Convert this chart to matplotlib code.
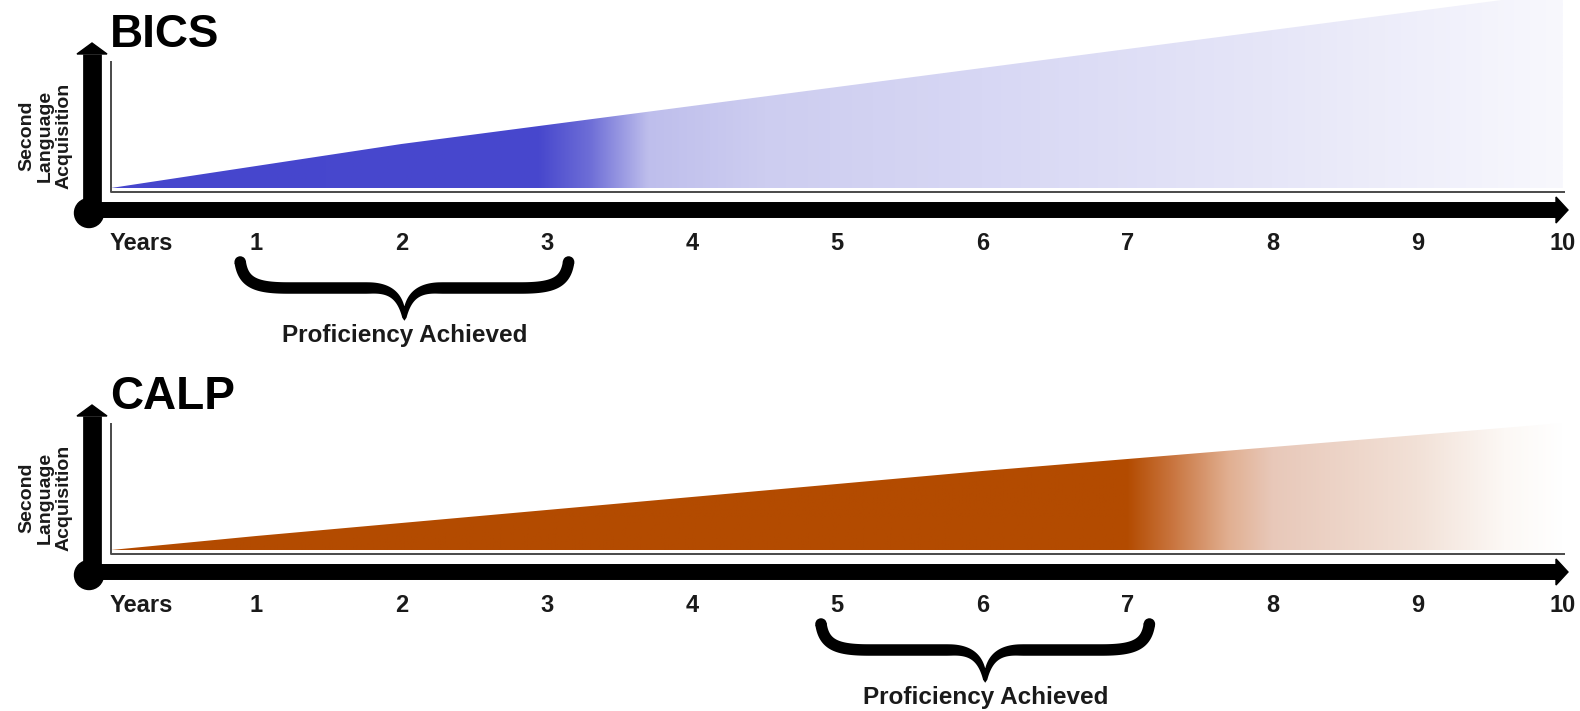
import numpy as np
import matplotlib
matplotlib.use("Agg")
import matplotlib.pyplot as plt
from matplotlib.patches import Polygon, Ellipse
from matplotlib.colors import to_rgb

# ---------------- data ----------------
years = list(range(0, 11))
tick_labels = ["Years"] + [str(i) for i in range(1, 11)]

bics_height = [0, 22, 44, 63, 82, 101, 120, 139, 158, 177, 196]
calp_height = [0, 14, 27, 40, 53, 66, 79, 91, 103, 115, 127]

bics_proficiency = (1, 3)
calp_proficiency = (5, 7)

bics_stop_years = [0, 2.95, 3.3, 3.7, 4.5, 6, 8, 10]
bics_stop_colors = ["#4646cd", "#4848cd", "#6e6ed7", "#bebeec",
                    "#cdcdf0", "#d7d7f4", "#e6e6f8", "#f8f8fd"]
calp_stop_years = [0, 7.0, 7.3, 7.7, 8.0, 9.0, 9.6, 10]
calp_stop_colors = ["#b34b00", "#b34b00", "#c8733c", "#e1af91",
                    "#e8c8b9", "#f2e1d7", "#fcf8f5", "#ffffff"]

titles = ["BICS", "CALP"]
ylabel = "Second\nLanguage\nAcquisition"
brace_label = "Proficiency Achieved"

# ---------------- layout ----------------
W, H, DPI = 1580, 711, 100
PX = 145.2        # pixels per year
X0 = 111          # pixel of year 0
FONT = "Liberation Sans"


def px2yr(p):
    return (p - X0) / PX


def dx(p):
    return p / PX


fig = plt.figure(figsize=(W / DPI, H / DPI), dpi=DPI, facecolor="white")


def bez(p0, p1, p2, p3, n=40):
    t = np.linspace(0, 1, n)[:, None]
    p0, p1, p2, p3 = map(np.asarray, (p0, p1, p2, p3))
    return ((1 - t) ** 3) * p0 + 3 * ((1 - t) ** 2) * t * p1 + 3 * (1 - t) * t ** 2 * p2 + t ** 3 * p3


def brace(ax, a, b, top, mid, tip, lpad, rpad):
    # everything here in pixel units (x from left end), then mapped to data
    Lpx = X0 + a * PX - lpad
    Rpx = X0 + b * PX + rpad
    hw = (Rpx - Lpx) / 2
    s1 = bez((0, top), (3, mid + 5), (16, mid), (48, mid))
    s2 = np.linspace((48, mid), (hw - 34, mid), 20)
    s3 = bez((hw - 34, mid), (hw - 12, mid), (hw - 3, mid - 10), (hw, tip))
    half = np.vstack([s1, s2[1:], s3[1:]])
    seg = np.diff(half, axis=0)
    sl = np.concatenate([[0], np.cumsum(np.hypot(seg[:, 0], seg[:, 1]))])
    u = sl / sl[-1]
    thick_half = 11.5 - 8.0 * np.clip((u - 0.72) / 0.28, 0, 1) ** 1.3
    right = half[::-1].copy()
    right[:, 0] = 2 * hw - right[:, 0]
    cl = np.vstack([half, right[1:]])
    th = np.concatenate([thick_half, thick_half[::-1][1:]])
    tang = np.gradient(cl, axis=0)
    tang /= np.hypot(tang[:, 0], tang[:, 1])[:, None]
    nrm = np.stack([-tang[:, 1], tang[:, 0]], axis=1)
    upper = cl + nrm * th[:, None] / 2
    lower = cl - nrm * th[:, None] / 2
    poly = np.vstack([upper, lower[::-1]])
    poly_data = np.column_stack([px2yr(Lpx + poly[:, 0]), poly[:, 1]])
    ax.add_patch(Polygon(poly_data, closed=True, color="black", lw=0))
    for ex in (0, 2 * hw):
        ax.add_patch(Ellipse((px2yr(Lpx + ex), top), dx(11.5), 11.5, color="black", lw=0))
    return px2yr(Lpx + hw)


def panel(ax, title, heights, stop_years, stop_colors, prof, ylim):
    ax.set_xlim(px2yr(0), px2yr(W))
    ax.set_ylim(*ylim)
    ax.axis("off")

    # gradient wedge
    xs = np.linspace(0, 10, 1400)
    cols = np.array([to_rgb(c) for c in stop_colors])
    rgb = np.stack([np.interp(xs, stop_years, cols[:, k]) for k in range(3)], axis=-1)
    img = np.repeat(rgb[np.newaxis, :, :], 2, axis=0)
    im = ax.imshow(img, extent=[years[0], years[-1], 0, max(heights)],
                   aspect="auto", origin="lower", interpolation="bilinear", zorder=1)
    verts = list(zip(years, heights)) + [(years[-1], 0), (years[0], 0)]
    clip = Polygon(verts, closed=True, facecolor="none", edgecolor="none")
    ax.add_patch(clip)
    im.set_clip_path(clip)

    # thin inner L-frame
    ax.plot([0, 0, px2yr(1565)], [127, -4, -4], color="#4a4a4a", lw=1.4,
            zorder=2, solid_capstyle="butt")

    # thick x axis with arrow
    ax.plot([px2yr(90), px2yr(1557)], [-22, -22], color="black", lw=11.5,
            solid_capstyle="butt", zorder=3)
    ax.add_patch(Polygon([(px2yr(1556), -9), (px2yr(1568), -22), (px2yr(1556), -35)],
                         closed=True, color="black", zorder=3))
    # thick y axis with arrow
    xv = px2yr(92)
    ax.plot([xv, xv], [-22, 134], color="black", lw=13.5,
            solid_capstyle="butt", zorder=3)
    ax.add_patch(Polygon([(px2yr(77), 134), (xv, 145), (px2yr(107), 134)],
                         closed=True, color="black", zorder=3))
    ax.add_patch(Ellipse((px2yr(89), -25), dx(29), 29, color="black", zorder=3))

    # tick labels
    for yr, lab in zip(years, tick_labels):
        if yr == 0:
            ax.text(px2yr(110), -62, lab, ha="left", va="baseline",
                    fontsize=17, fontweight="bold", family=FONT, color="#1a1a1a")
        else:
            ax.text(yr, -62, lab, ha="center", va="baseline",
                    fontsize=17, fontweight="bold", family=FONT, color="#1a1a1a")

    # title
    ax.text(px2yr(110), 141, title, ha="left", va="baseline",
            fontsize=33, fontweight="bold", family=FONT, color="black")

    # y label
    ax.text(px2yr(45), 52, ylabel, rotation=90, ha="center", va="center",
            multialignment="center", fontsize=14, fontweight="bold",
            family=FONT, linespacing=1.12, color="#1a1a1a")

    # brace
    C = brace(ax, prof[0], prof[1], -74, -100, -131, 16, 22)
    ax.text(C, -154, brace_label, ha="center", va="baseline",
            fontsize=17.5, fontweight="bold", family=FONT, color="#1a1a1a")


ax1 = fig.add_axes([0, (H - 360) / H, 1, 360 / H])
panel(ax1, titles[0], bics_height, bics_stop_years, bics_stop_colors,
      bics_proficiency, (188 - 360, 188))

ax2 = fig.add_axes([0, 0, 1, 351 / H])
panel(ax2, titles[1], calp_height, calp_stop_years, calp_stop_colors,
      calp_proficiency, (550 - 711, 550 - 360))

fig.savefig("out.png", dpi=DPI, facecolor="white")
